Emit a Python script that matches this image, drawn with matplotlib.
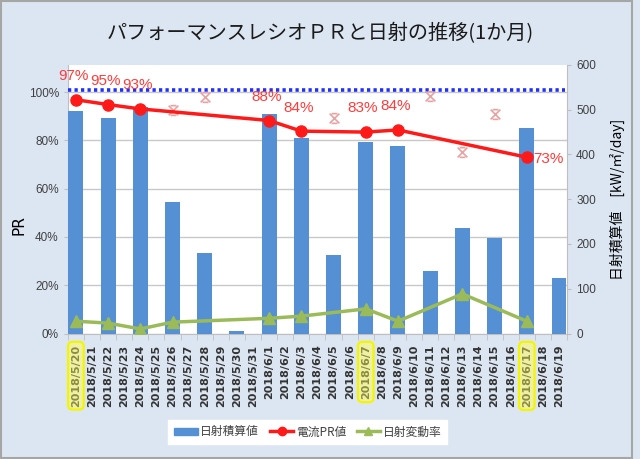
import numpy as np
import matplotlib.pyplot as plt
from matplotlib.path import Path
from matplotlib.patches import Rectangle
from matplotlib.lines import Line2D

plt.rcParams['font.family'] = ['Noto Sans CJK JP', 'DejaVu Sans']
num_font = ['Liberation Sans Narrow', 'Liberation Sans', 'DejaVu Sans']

dates = ['2018/5/20', '2018/5/21', '2018/5/22', '2018/5/23', '2018/5/24', '2018/5/25',
         '2018/5/26', '2018/5/27', '2018/5/28', '2018/5/29', '2018/5/30', '2018/5/31',
         '2018/6/1', '2018/6/2', '2018/6/3', '2018/6/4', '2018/6/5', '2018/6/6',
         '2018/6/7', '2018/6/8', '2018/6/9', '2018/6/10', '2018/6/11', '2018/6/12',
         '2018/6/13', '2018/6/14', '2018/6/15', '2018/6/16', '2018/6/17', '2018/6/18',
         '2018/6/19']

# 日射積算値 [kW/m2/day]
irr = [497, None, 480, None, 506, None, 294, None, 179, None, 5, None,
       491, None, 437, None, 175, None, 427, None, 419, None, 140, None,
       235, None, 214, None, 458, None, 125]

# 電流PR値
pr = [0.968, None, 0.948, None, 0.93, None, None, None, None, None, None, None,
      0.882, None, 0.838, None, None, None, 0.834, None, 0.843, None, None, None,
      None, None, None, None, 0.73, None, None]

# PR (excluded days)
pr_other = [None, None, None, None, None, None, 0.926, None, 0.981, None, None, None,
            None, None, None, None, 0.892, None, None, None, None, None, 0.985, None,
            0.751, None, 0.91, None, None, None, None]

# 日射変動率
var = [0.051, None, 0.043, None, 0.019, None, 0.047, None, None, None, None, None,
       0.063, None, 0.072, None, None, None, 0.102, None, 0.051, None, None, None,
       0.164, None, None, None, 0.051, None, None]

highlight = ['2018/5/20', '2018/6/7', '2018/6/17']


def pick(vals):
    idx = [i for i, v in enumerate(vals) if v is not None]
    return np.array(idx), np.array([vals[i] for i in idx])


x = np.arange(len(dates))
bg = '#dce6f2'

fig = plt.figure(figsize=(6.4, 4.59), dpi=100, facecolor=bg)
fig.patches.append(Rectangle((0.002, 0.002), 0.985, 0.996, transform=fig.transFigure,
                             fill=False, ec='#a6a6a6', lw=1.5))

ax = fig.add_axes([0.106, 0.2734, 0.780, 0.5856])
ax2 = ax.twinx()
ax3 = ax.twinx()
ax.set_zorder(0)
ax2.set_zorder(1)
ax3.set_zorder(2)
ax2.patch.set_visible(False)
ax3.patch.set_visible(False)
ax.set_facecolor('white')

# bars
bx, by = pick(irr)
ax2.bar(bx, by, width=0.93, color='#5590d4', zorder=2)
ax2.set_ylim(0, 600)
ax2.set_yticks(np.arange(0, 601, 100))
ax2.set_ylabel('日射積算値　[kW/㎡/day]', fontsize=10, labelpad=10,
               family=['Noto Sans CJK JP', 'DejaVu Sans'])

# PR axis
ax.set_ylim(0, 1.113)
ax.set_yticks(np.arange(0, 1.01, 0.2))
ax.set_yticklabels([f'{v:.0%}' for v in np.arange(0, 1.01, 0.2)])
ax.grid(axis='y', color='#c8c8c8', lw=1)
fig.text(0.030, 0.51, 'PR', rotation=90, ha='center', va='center', fontsize=11,
         family='DejaVu Sans')
ax3.set_ylim(ax.get_ylim())
ax3.yaxis.set_visible(False)

ax.set_xlim(-0.5, len(dates) - 0.5)
ax.set_xticks(x)
ax.set_xticklabels(dates, rotation=90, fontsize=8, color='#333333', family='DejaVu Sans',
                   fontweight='bold')
ax.set_xticks(np.arange(-0.5, len(dates), 1), minor=True)
ax.tick_params(axis='x', which='major', length=0, pad=8)
ax.tick_params(axis='x', which='minor', length=4, color='#bfbfbf')
for lab in ax.get_xticklabels():
    if lab.get_text() in highlight:
        lab.set_color('#8c8c3a')
        lab.set_bbox(dict(boxstyle='round,pad=0.25,rounding_size=0.4', fc='#eef0a6',
                          ec='#f5f500', lw=1.6))

for a in (ax, ax2, ax3):
    for s in a.spines.values():
        s.set_visible(False)
ax.spines['left'].set_visible(True)
ax.spines['bottom'].set_visible(True)
ax2.spines['right'].set_visible(True)
for s in (ax.spines['left'], ax.spines['bottom'], ax2.spines['right']):
    s.set_color('#bfbfbf')

ax.tick_params(axis='y', length=3, color='#bfbfbf', labelsize=8.5, labelcolor='#404040')
ax2.tick_params(axis='y', length=3, color='#bfbfbf', labelsize=8.5, labelcolor='#404040')
for lab in ax.get_yticklabels() + ax2.get_yticklabels():
    lab.set_family(num_font)

# 100% reference line
ax3.axhline(1.01, xmin=0, xmax=0.995, color='#1f2fff', lw=2.6, ls=(0, (0.9, 0.9)))

# PR line
px, py = pick(pr)
ax3.plot(px, py, color='#ff1a1a', lw=2.5, marker='o', ms=8, zorder=4)
for xi, yi in zip(px, py):
    if xi == px[-1]:
        ax3.annotate(f'{yi:.0%}', (xi, yi), xytext=(5, -1), textcoords='offset points',
                     ha='left', va='center', color='#ff3b3b', fontsize=11, family=num_font)
    else:
        ax3.annotate(f'{yi:.0%}', (xi, yi), xytext=(-2, 17), textcoords='offset points',
                     ha='center', va='center', color='#ff3b3b', fontsize=11, family=num_font)

# excluded PR points
star = Path([(-1, 1), (1, -1), (1, 1), (-1, -1), (-0.6, 1), (0.6, 1), (-0.6, -1), (0.6, -1)],
            [Path.MOVETO, Path.LINETO, Path.MOVETO, Path.LINETO,
             Path.MOVETO, Path.LINETO, Path.MOVETO, Path.LINETO])
ox, oy = pick(pr_other)
ax3.plot(ox, oy, ls='none', marker=star, ms=7, mew=1.2, color='#e8a2a2', zorder=3)

# variation line
vx, vy = pick(var)
ax3.plot(vx, vy, color='#9bbb59', lw=2.5, marker='^', ms=9, zorder=4)

fig.text(0.5, 0.928, 'パフォーマンスレシオＰＲと日射の推移(1か月)', ha='center', va='center',
         fontsize=14.5, color='#1a1a1a')

handles = [Rectangle((0, 0), 1, 1, color='#5590d4'),
           Line2D([], [], color='#ff1a1a', lw=2.5, marker='o', ms=6),
           Line2D([], [], color='#9bbb59', lw=2.5, marker='^', ms=6)]
leg = fig.legend(handles, ['日射積算値', '電流PR値', '日射変動率'], loc='center',
                 bbox_to_anchor=(0.481, 0.059), ncol=3, fontsize=8.5, frameon=True,
                 fancybox=False, edgecolor='white', facecolor='white', framealpha=1,
                 handlelength=2.0, handleheight=0.6, columnspacing=0.9, handletextpad=0.2,
                 borderpad=0.5)
for t in leg.get_texts():
    t.set_color('#404040')

fig.savefig('out.png', dpi=100, facecolor=bg)
